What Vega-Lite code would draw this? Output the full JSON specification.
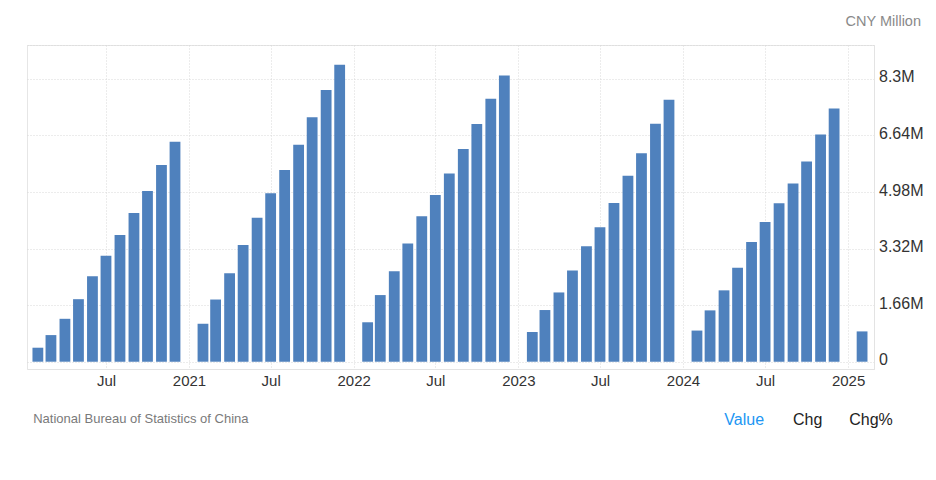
{
  "$schema": "https://vega.github.io/schema/vega-lite/v6.json",
  "width": 847,
  "height": 324,
  "autosize": {"type": "none"},
  "padding": {"left": 27, "top": 45, "right": 62, "bottom": 111},
  "background": "#ffffff",
  "config": {
    "font": "Liberation Sans, Arial, Helvetica, sans-serif",
    "view": {"stroke": "#e6e6e6"}
  },
  "layer": [
    {
      "data": {
        "values": [
          {"date": "2020-02-01", "value": 410700},
          {"date": "2020-03-01", "value": 781400},
          {"date": "2020-04-01", "value": 1259400},
          {"date": "2020-05-01", "value": 1835200},
          {"date": "2020-06-01", "value": 2511500},
          {"date": "2020-07-01", "value": 3112900},
          {"date": "2020-08-01", "value": 3717300},
          {"date": "2020-09-01", "value": 4366500},
          {"date": "2020-10-01", "value": 5012400},
          {"date": "2020-11-01", "value": 5773900},
          {"date": "2020-12-01", "value": 6455200},
          {"date": "2021-02-01", "value": 1114000},
          {"date": "2021-03-01", "value": 1825300},
          {"date": "2021-04-01", "value": 2594100},
          {"date": "2021-05-01", "value": 3424700},
          {"date": "2021-06-01", "value": 4223300},
          {"date": "2021-07-01", "value": 4947000},
          {"date": "2021-08-01", "value": 5628000},
          {"date": "2021-09-01", "value": 6366300},
          {"date": "2021-10-01", "value": 7175000},
          {"date": "2021-11-01", "value": 7975000},
          {"date": "2021-12-01", "value": 8716200},
          {"date": "2022-02-01", "value": 1157500},
          {"date": "2022-03-01", "value": 1955900},
          {"date": "2022-04-01", "value": 2654000},
          {"date": "2022-05-01", "value": 3466000},
          {"date": "2022-06-01", "value": 4270200},
          {"date": "2022-07-01", "value": 4892900},
          {"date": "2022-08-01", "value": 5525400},
          {"date": "2022-09-01", "value": 6244200},
          {"date": "2022-10-01", "value": 6977000},
          {"date": "2022-11-01", "value": 7717900},
          {"date": "2022-12-01", "value": 8403900},
          {"date": "2023-02-01", "value": 871500},
          {"date": "2023-03-01", "value": 1516700},
          {"date": "2023-04-01", "value": 2032800},
          {"date": "2023-05-01", "value": 2679100},
          {"date": "2023-06-01", "value": 3388400},
          {"date": "2023-07-01", "value": 3944000},
          {"date": "2023-08-01", "value": 4655800},
          {"date": "2023-09-01", "value": 5455900},
          {"date": "2023-10-01", "value": 6122200},
          {"date": "2023-11-01", "value": 6982100},
          {"date": "2023-12-01", "value": 7685800},
          {"date": "2024-02-01", "value": 914000},
          {"date": "2024-03-01", "value": 1506600},
          {"date": "2024-04-01", "value": 2094600},
          {"date": "2024-05-01", "value": 2754300},
          {"date": "2024-06-01", "value": 3510600},
          {"date": "2024-07-01", "value": 4099100},
          {"date": "2024-08-01", "value": 4652700},
          {"date": "2024-09-01", "value": 5228100},
          {"date": "2024-10-01", "value": 5874500},
          {"date": "2024-11-01", "value": 6667500},
          {"date": "2024-12-01", "value": 7431100},
          {"date": "2025-02-01", "value": 889400}
        ]
      },
      "mark": {"type": "bar", "width": 10.8, "color": "#4f81bd"},
      "encoding": {
        "x": {
          "field": "date",
          "type": "temporal",
          "scale": {
            "type": "utc",
            "domain": [
              {"year": 2020, "month": 1, "date": 19, "utc": true},
              {"year": 2025, "month": 2, "date": 16, "hours": 8, "utc": true}
            ]
          },
          "axis": {
            "values": [
              {"year": 2020, "month": 7, "date": 1, "utc": true},
              {"year": 2021, "month": 1, "date": 1, "utc": true},
              {"year": 2021, "month": 7, "date": 1, "utc": true},
              {"year": 2022, "month": 1, "date": 1, "utc": true},
              {"year": 2022, "month": 7, "date": 1, "utc": true},
              {"year": 2023, "month": 1, "date": 1, "utc": true},
              {"year": 2023, "month": 7, "date": 1, "utc": true},
              {"year": 2024, "month": 1, "date": 1, "utc": true},
              {"year": 2024, "month": 7, "date": 1, "utc": true},
              {"year": 2025, "month": 1, "date": 1, "utc": true}
            ],
            "labelExpr": "utcFormat(datum.value, '%m') == '01' ? utcFormat(datum.value, '%Y') : 'Jul'",
            "grid": true,
            "gridColor": "#d9d9d9",
            "gridDash": [1, 2],
            "domain": true,
            "domainColor": "#e3e3e3",
            "ticks": false,
            "labelFontSize": 15,
            "labelColor": "#333333",
            "labelBaseline": "alphabetic",
            "labelPadding": 16.5,
            "labelFlush": false,
            "labelOverlap": false,
            "title": "National Bureau of Statistics of China",
            "titleX": 5.7,
            "titleY": 53.7,
            "titleAlign": "left",
            "titleAnchor": "start",
            "titleBaseline": "alphabetic",
            "titleFontSize": 13,
            "titleFontWeight": "normal",
            "titleColor": "#7a7a7a"
          }
        },
        "y": {
          "field": "value",
          "type": "quantitative",
          "scale": {"domain": [-214000, 9296000], "nice": false, "zero": false},
          "axis": {
            "orient": "right",
            "values": [0, 1660000, 3320000, 4980000, 6640000, 8300000, 9296000],
            "labelExpr": "datum.value == 0 ? '0' : (datum.value > 9000000 ? '' : format(datum.value / 1000000, '.3~r') + 'M')",
            "grid": true,
            "gridColor": "#d9d9d9",
            "gridDash": [1, 2],
            "domain": true,
            "domainColor": "#e3e3e3",
            "ticks": false,
            "labelFontSize": 16,
            "labelColor": "#333333",
            "labelAlign": "left",
            "labelBaseline": "middle",
            "labelPadding": 4.5,
            "labelOffset": -2,
            "labelFlush": false,
            "labelOverlap": false,
            "title": "CNY Million",
            "titleAngle": 0,
            "titleX": 46.5,
            "titleY": -19.3,
            "titleAlign": "right",
            "titleBaseline": "alphabetic",
            "titleFontSize": 14.5,
            "titleFontWeight": "normal",
            "titleColor": "#8a8a8a"
          }
        },
        "y2": {"datum": 0}
      }
    },
    {
      "data": {"values": [{"k": "Value"}, {"k": "Chg"}, {"k": "Chg%"}]},
      "mark": {"type": "point", "opacity": 0},
      "encoding": {
        "x": {
          "field": "k",
          "type": "nominal",
          "sort": null,
          "scale": {"type": "point", "range": [716.7, 843.5], "padding": 0},
          "axis": {
            "orient": "bottom",
            "offset": 88,
            "domain": false,
            "ticks": false,
            "grid": false,
            "labelAngle": 0,
            "labelPadding": -33,
            "labelBaseline": "alphabetic",
            "labelFontSize": 16,
            "labelFlush": false,
            "labelOverlap": false,
            "labelColor": {"condition": {"test": "datum.value === 'Value'", "value": "#2196f3"}, "value": "#222222"},
            "title": null
          }
        }
      }
    }
  ],
  "resolve": {"scale": {"x": "independent"}, "axis": {"x": "independent"}}
}
